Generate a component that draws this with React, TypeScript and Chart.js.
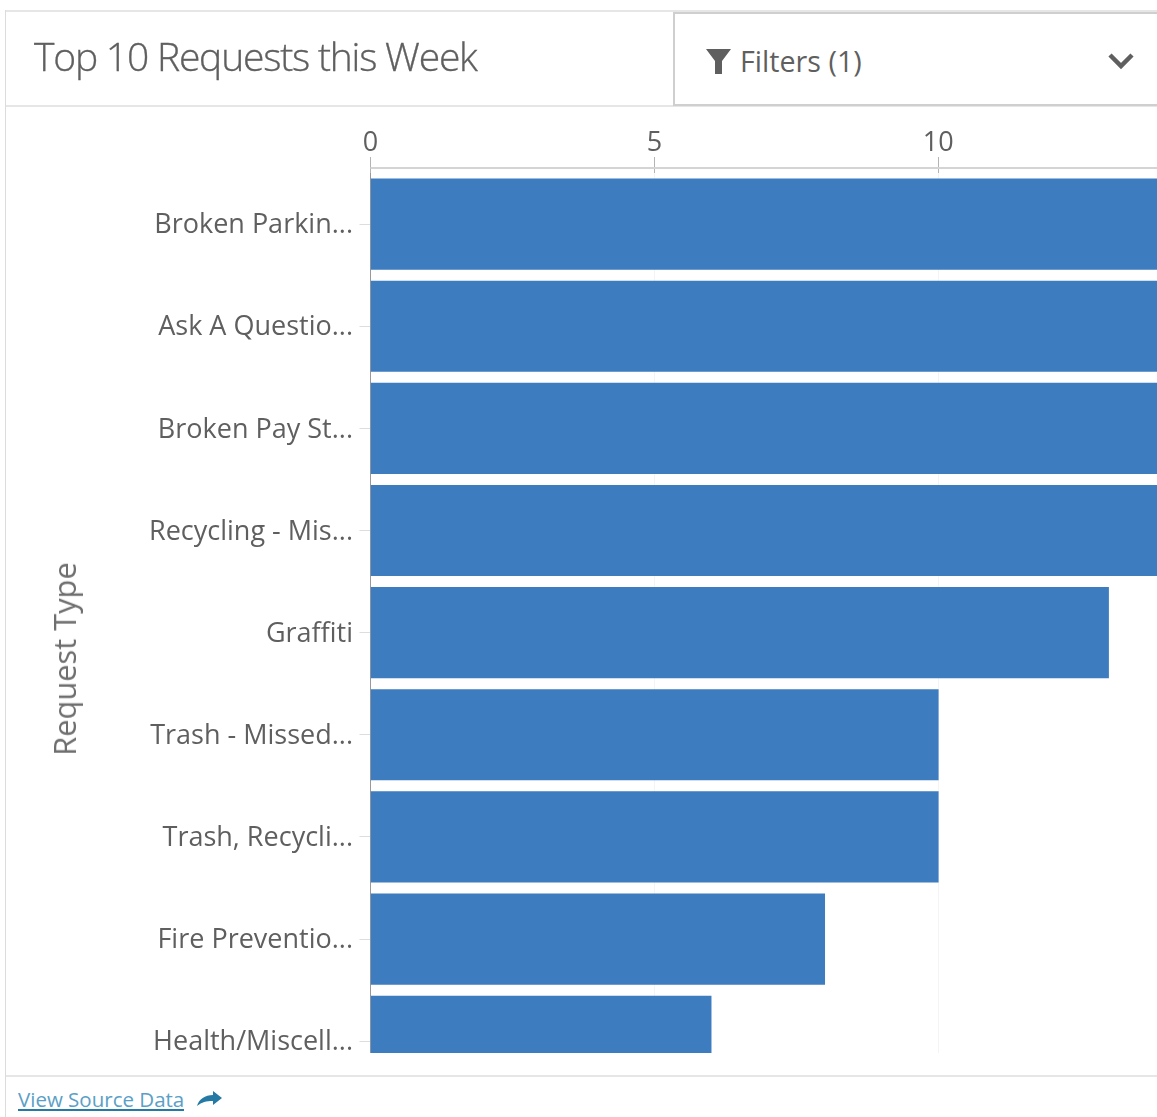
import React, { useEffect, useRef } from "react";
import { Chart, registerables } from "chart.js";

Chart.register(...registerables);

const categories = [
  "Broken Parkin...",
  "Ask A Questio...",
  "Broken Pay St...",
  "Recycling - Mis...",
  "Graffiti",
  "Trash - Missed...",
  "Trash, Recycli...",
  "Fire Preventio...",
  "Health/Miscell...",
];
const requestCounts = [17, 16, 15, 14, 13, 10, 10, 8, 6];
const axisTitle = "Request Type";
const chartTitle = "Top 10 Requests this Week";
const filterLabel = "Filters (1)";
const sourceLabel = "View Source Data";

const FONT = '"Open Sans", sans-serif';
const TEXT = "#5f5f5f";

const topRule = {
  id: "topRule",
  beforeDatasetsDraw(chart: any) {
    const { ctx, chartArea } = chart;
    ctx.save();
    ctx.strokeStyle = "#d4d4d4";
    ctx.lineWidth = 2;
    ctx.beginPath();
    ctx.moveTo(chartArea.left, chartArea.top - 5);
    ctx.lineTo(chartArea.right, chartArea.top - 5);
    ctx.stroke();
    ctx.restore();
  },
};

export default function App() {
  const ref = useRef<HTMLCanvasElement>(null);
  useEffect(() => {
    const chart = new Chart(ref.current!, {
      type: "bar",
      data: {
        labels: categories,
        datasets: [
          {
            data: requestCounts,
            backgroundColor: "#3d7dbf",
            barThickness: 90.5,
          },
        ],
      },
      plugins: [topRule],
      options: {
        indexAxis: "y",
        responsive: false,
        animation: false,
        layout: { padding: { left: 0, right: 35, top: 0, bottom: 0 } },
        plugins: { legend: { display: false }, tooltip: { enabled: false } },
        scales: {
          x: {
            position: "top",
            min: 0,
            max: 20,
            afterFit(scale: any) {
              scale.height = 173;
            },
            ticks: {
              stepSize: 5,
              color: TEXT,
              padding: -3,
              maxRotation: 0,
              font: { family: FONT, size: 27 },
            },
            border: { display: false },
            grid: {
              color: "#f4f4f4",
              tickColor: "#b4b4b4",
              tickLength: 16,
              lineWidth: 1,
            },
          },
          y: {
            afterFit(scale: any) {
              scale.width = 370.5;
            },
            ticks: {
              color: TEXT,
              padding: 6.5,
              labelOffset: 1.5,
              autoSkip: false,
              font: { family: FONT, size: 27 },
            },
            border: { display: true, color: "#999999", width: 1 },
            grid: {
              offset: false,
              drawOnChartArea: false,
              drawTicks: true,
              tickLength: 11,
              tickColor: "#dddddd",
            },
          },
        },
      },
    });
    return () => chart.destroy();
  }, []);

  const abs = (o: React.CSSProperties): React.CSSProperties => ({
    position: "absolute",
    boxSizing: "border-box",
    ...o,
  });

  return (
    <div
      style={abs({
        left: 0,
        top: 0,
        width: 1157,
        height: 1117,
        overflow: "hidden",
        background: "#fff",
        fontFamily: FONT,
        color: TEXT,
      })}
    >
      <div style={abs({ left: 0, top: 0, width: 1157, height: 1053, overflow: "hidden" })}>
        <canvas
          ref={ref}
          width={1541}
          height={1115}
          style={{ position: "absolute", left: 0, top: 0, width: 1541, height: 1115 }}
        />
      </div>

      <div style={abs({ left: 5, top: 10, width: 1152, height: 2, background: "#e6e6e6" })} />
      <div style={abs({ left: 5, top: 105, width: 1152, height: 2, background: "#e6e6e6" })} />
      <div style={abs({ left: 5, top: 1075, width: 1152, height: 2, background: "#e6e6e6" })} />
      <div style={abs({ left: 5, top: 10, width: 1, height: 1107, background: "#dcdcdc" })} />

      <div
        style={abs({
          left: 34,
          top: 29.5,
          fontSize: 39,
          fontWeight: 300,
          letterSpacing: -1.2,
          lineHeight: "52px",
          whiteSpace: "nowrap",
          WebkitTextStroke: "0.35px #5f5f5f",
        })}
      >
        {chartTitle}
      </div>

      <div
        style={abs({
          left: 673,
          top: 12,
          width: 484,
          height: 94,
          borderLeft: "2px solid #cfcfcf",
          borderTop: "2px solid #cfcfcf",
          borderBottom: "2px solid #cfcfcf",
          background: "#fff",
        })}
      />
      <svg style={abs({ left: 706, top: 48, width: 25, height: 26 })} viewBox="0 0 25 26">
        <path d="M0 1 H25 L16 13 V26 H9 V13 Z" fill="#5f5f5f" />
      </svg>
      <div
        style={abs({ left: 740, top: 41, fontSize: 28.7, lineHeight: "40px", whiteSpace: "nowrap" })}
      >
        {filterLabel}
      </div>
      <svg style={abs({ left: 1107, top: 51, width: 28, height: 20 })} viewBox="0 0 28 20">
        <path d="M3 4 L14 15 L25 4" fill="none" stroke="#5f5f5f" strokeWidth="4.5" />
      </svg>

      <div
        style={abs({
          left: 64,
          top: 659,
          fontSize: 30.8,
          lineHeight: "36px",
          whiteSpace: "nowrap",
          transform: "translate(-50%, -50%) rotate(-90deg)",
          color: "#6f6f6f",
        })}
      >
        {axisTitle}
      </div>

      <div
        style={abs({
          left: 18,
          top: 1084,
          fontSize: 20.5,
          lineHeight: "30px",
          whiteSpace: "nowrap",
          color: "#5aa0c6",
          borderBottom: "2px solid #2479a5",
          height: 27,
        })}
      >
        {sourceLabel}
      </div>
      <svg style={abs({ left: 196, top: 1090, width: 27, height: 17 })} viewBox="0 0 27 17">
        <path d="M1 16 C3 9 9 5 17 5 V1 L26 8 L17 15 V11 C10 11 6 12 1 16 Z" fill="#2479a5" />
      </svg>
    </div>
  );
}
